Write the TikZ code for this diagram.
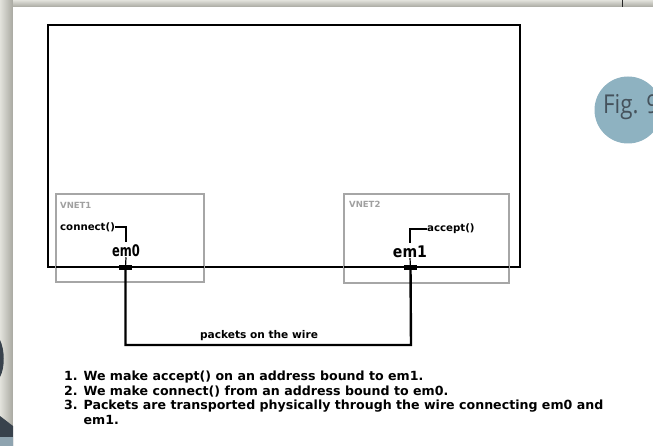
\documentclass[tikz,border=0pt]{standalone}
\usepackage{fontspec}
\setmainfont{DejaVu Sans}
\newfontfamily\figfont{Open Sans}
\definecolor{vgray}{HTML}{A6A6A6}
\definecolor{vtext}{HTML}{A0A0A0}
\definecolor{figblue}{HTML}{8EB2C1}
\definecolor{figtext}{HTML}{45525C}
\definecolor{shadeL}{HTML}{E2E2DC}
\definecolor{shadeD}{HTML}{A8A8A0}
\definecolor{darkshape}{HTML}{38424C}
\definecolor{blueshape}{HTML}{8FA4B0}
\tikzset{
  vbox/.style={draw=vgray, line width=1.3pt},
  frame/.style={draw=black, line width=1.1pt},
  vlabel/.style={text=vtext, font=\bfseries\fontsize{8.5}{8.5}\selectfont, inner sep=0pt, anchor=west},
  call/.style={font=\bfseries\fontsize{10.2}{10.2}\selectfont, inner sep=0pt},
  iface/.style={font=\bfseries\fontsize{16}{16}\selectfont, inner sep=0pt},
  marker/.style={fill=black, minimum width=13pt, minimum height=5.5pt, inner sep=0pt},
  wire/.style={line width=2.4pt},
  thin/.style={line width=1.2pt},
  listtext/.style={font=\bfseries\fontsize{12.6}{14.5}\selectfont, inner sep=0pt, anchor=north west, align=left}
}
\begin{document}
\begin{tikzpicture}[x=1pt,y=-1pt]
\useasboundingbox (0,0) rectangle (653,446);
\clip (0,0) rectangle (653,446);
% page background
\fill[shadeL] (0,0) rectangle (653,446);
\shade[left color=shadeL, right color=shadeD] (0,0) rectangle (13,446);
\shade[top color=shadeL, bottom color=shadeD] (13,0) rectangle (653,7);
\fill[white] (13,7) rectangle (653,446);
\draw[line width=1pt, black!85] (622,0) -- (622,7);
\fill[darkshape] (0,340) .. controls (5,350) and (5,368) .. (0,377) -- cycle;
\fill[darkshape] (0,416) -- (13,426) -- (13,446) -- (0,446) -- cycle;
\fill[blueshape] (0,437) -- (13,437) -- (13,446) -- (0,446) -- cycle;
% Fig badge
\node[circle, fill=figblue, minimum size=67pt, inner sep=0pt] (fig) at (628,110) {};
\node[anchor=west, text=figtext, inner sep=0pt, font=\figfont\fontsize{26}{26}\selectfont] (figlabel) at (603,107) {\scalebox{0.86}[1]{Fig. 9}};
% big frame
\draw[frame] (48,25) rectangle (520,267);
% VNET boxes
\draw[vbox] (56,194) rectangle (204,282);
\draw[vbox] (344,194) rectangle (509,283);
\draw[frame] (56,267) -- (204,267);
\draw[frame] (344,267) -- (509,267);
\node[vlabel] (vnet1) at (60,205) {VNET1};
\node[vlabel] (vnet2) at (349,204) {VNET2};
% interfaces
\node[call, anchor=west] (conn) at (60,227) {connect()};
\node[iface] (em0) at (126,251) {\scalebox{0.72}[1]{em0}};
\node[call, anchor=west] (acc) at (427,229) {accept()};
\node[iface] (em1) at (410,252) {\scalebox{0.88}[1]{em1}};
\coordinate (b0) at (126,242);
\coordinate (b1) at (410,243);
\draw[thin] (conn.east) -| (b0);
\draw[thin] (acc.west) -| (b1);
\node[marker] (m0) at (125.5,267.5) {};
\node[marker] (m1) at (410.5,267.5) {};
\draw[thin] (em0.south) -- (m0.center);
\draw[thin] (em1.south) -- (m1.center);
\coordinate (w1) at (411,345);
\draw[wire] (m0.center) |- (w1) -- (m1.center);
\node[call, anchor=south, font=\bfseries\fontsize{10.6}{10.6}\selectfont] (pk) at (259,341) {packets on the wire};
% list
\node[listtext] (list) at (64,371) {1. We make accept() on an address bound to em1.\\
2. We make connect() from an address bound to em0.\\
3. Packets are transported physically through the wire connecting em0 and\\
\phantom{3. }em1.};
\end{tikzpicture}
\end{document}
